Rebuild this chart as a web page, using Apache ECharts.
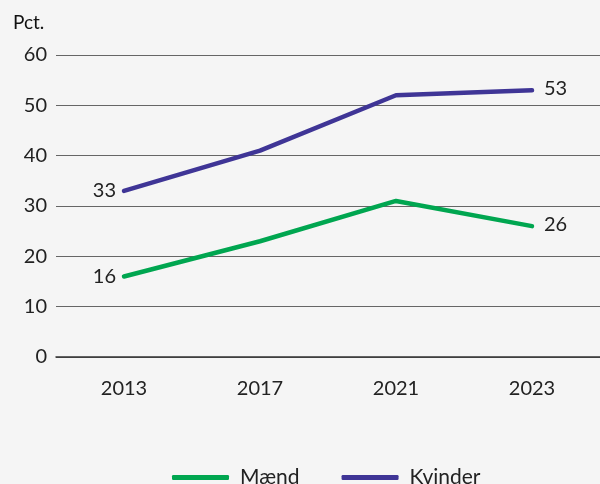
<!DOCTYPE html>
<html lang="da">
  <head>
    <meta charset="UTF-8" />
    <title>Mænd og kvinder</title>
    <script src="https://cdn.jsdelivr.net/npm/echarts@6/dist/echarts.min.js"></script>
    <style>
      body { margin: 0; background: #f5f5f5; }
    </style>
  </head>
  <body>
    <div id="main" style="width: 600px; height: 484px"></div>
    <script type="text/javascript">
      // data
      const years = ["2013", "2017", "2021", "2023"];
      const maend = [16, 23, 31, 26];
      const kvinder = [33, 41, 52, 53];
      const yTicks = [0, 10, 20, 30, 40, 50, 60];

      const font = "Lato, 'Noto Sans', sans-serif";

      // only show values at first and last point
      function endLabels(data) {
        return data.map((v, i) => {
          if (i === 0) return { value: v, label: { show: true, position: "left", distance: 8 } };
          if (i === data.length - 1) return { value: v, label: { show: true, position: "right", distance: 12, offset: [0, -2] } };
          return v;
        });
      }

      const lineSeries = (name, data, color) => ({
        name: name,
        type: "line",
        data: endLabels(data),
        symbol: "circle",
        symbolSize: 0,
        showAllSymbol: true,
        lineStyle: { width: 4.5, color: color, cap: "round", join: "round" },
        itemStyle: { color: color },
        label: { show: false, fontFamily: font, fontSize: 20, color: "#222" },
      });

      let options = {
        backgroundColor: "#f5f5f5",
        textStyle: { fontFamily: font },
        title: {
          text: "Pct.",
          left: 8,
          top: 8,
          textStyle: { fontFamily: font, fontSize: 19, fontWeight: "normal", color: "#111" },
        },
        grid: { left: 56, right: 0, top: 55, bottom: 127 },
        xAxis: {
          type: "category",
          data: years,
          boundaryGap: true,
          axisTick: { show: false },
          axisLine: { lineStyle: { color: "#333", width: 1.5 } },
          axisLabel: { fontSize: 20, color: "#222", margin: 22, fontFamily: font },
        },
        yAxis: {
          type: "value",
          min: yTicks[0],
          max: yTicks[yTicks.length - 1],
          interval: 10,
          axisLabel: { fontSize: 20, color: "#222", margin: 9, fontFamily: font },
          splitLine: { lineStyle: { color: "#666", width: 1 } },
        },
        legend: {
          top: 462,
          left: 167,
          itemWidth: 57,
          itemHeight: 5,
          itemGap: 42,
          icon: "roundRect",
          textStyle: { fontSize: 21, color: "#222", fontFamily: font, padding: [0, 0, 0, 6] },
          data: ["Mænd", "Kvinder"],
        },
        series: [
          lineSeries("Mænd", maend, "#00a650"),
          lineSeries("Kvinder", kvinder, "#3f3596"),
        ],
      };

      let myChart = echarts.init(document.getElementById("main"));
      myChart.setOption(options);
    </script>
  </body>
</html>
